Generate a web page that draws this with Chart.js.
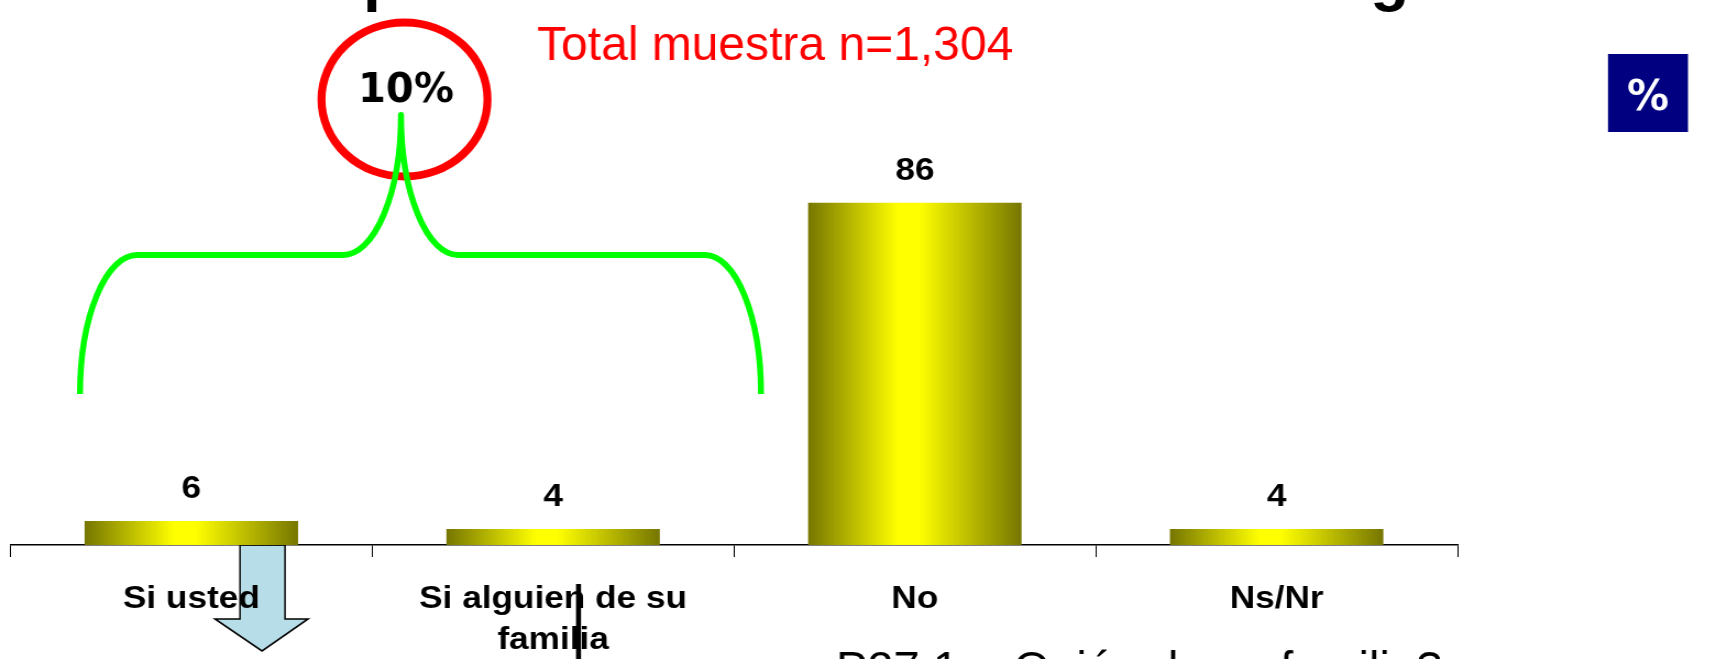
<!DOCTYPE html>
<html><head><meta charset="utf-8">
<script src="https://cdn.jsdelivr.net/npm/chart.js@4/dist/chart.umd.min.js"></script>
<style>
html,body{margin:0;padding:0;background:#fff;overflow:hidden;width:1731px;height:659px;}
#c{display:block;transform:scaleX(1.1);transform-origin:0 0;}
</style></head><body>
<canvas id="c" width="1574" height="659" style="width:1574px;height:659px"></canvas>
<script>
const categories = ['Si usted', 'Si alguien de su familia', 'No', 'Ns/Nr'];
const tickLabels = [['Si usted'], ['Si alguien de su', 'familia'], ['No'], ['Ns/Nr']];
const values = [6, 4, 86, 4];
const yMin = 0, yMax = 100;
const totalText = 'Total muestra n=1,304';
const circleText = '10%';
const unitText = '%';
const questionText = 'P27.1.-  Quién de su familia?';
const titleGlyphs = ['p', 'g'];

const SX = 1.1;
const BAR_PCT = 0.59;

function barGradient(c) {
  const chart = c.chart;
  const xs = chart.scales && chart.scales.x;
  const ca = chart.chartArea;
  if (!ca || !xs) return '#cccc00';
  const cw = (ca.right - ca.left) / categories.length;
  const cx = xs.getPixelForValue(c.dataIndex);
  const w = cw * BAR_PCT;
  const g = chart.ctx.createLinearGradient(cx - w / 2, 0, cx + w / 2, 0);
  g.addColorStop(0, '#767600');
  g.addColorStop(0.42, '#ffff00');
  g.addColorStop(0.52, '#ffff00');
  g.addColorStop(1, '#767600');
  return g;
}

const overlay = {
  id: 'overlay',
  beforeDraw(chart) {
    const ctx = chart.ctx;
    ctx.save();
    ctx.scale(1 / SX, 1);
    ctx.beginPath();
    ctx.moveTo(240, 545); ctx.lineTo(285, 545); ctx.lineTo(285, 619);
    ctx.lineTo(308, 619); ctx.lineTo(262, 651); ctx.lineTo(215, 619);
    ctx.lineTo(240, 619); ctx.closePath();
    ctx.fillStyle = '#b7dee8'; ctx.fill();
    ctx.lineWidth = 1.6; ctx.strokeStyle = '#000'; ctx.stroke();
    ctx.restore();
  },
  afterDatasetsDraw(chart) {
    const ctx = chart.ctx;
    const meta = chart.getDatasetMeta(0);
    ctx.save();
    ctx.font = 'bold 32px "Liberation Sans", Arial, sans-serif';
    ctx.fillStyle = '#000';
    ctx.textAlign = 'center';
    ctx.textBaseline = 'alphabetic';
    meta.data.forEach((bar, i) => {
      ctx.fillText(String(values[i]), bar.x, bar.y - 23);
    });
    ctx.restore();
  },
  afterDraw(chart) {
    const ctx = chart.ctx;
    ctx.save();
    ctx.scale(1 / SX, 1);
    ctx.fillStyle = '#000';
    ctx.font = 'bold 64px "Liberation Sans", Arial, sans-serif';
    ctx.textAlign = 'left'; ctx.textBaseline = 'alphabetic';
    ctx.fillText(titleGlyphs[0], 363, -1);
    ctx.fillText(titleGlyphs[1], 1370, -1);
    ctx.fillStyle = '#ff0000';
    ctx.font = '48px "Liberation Sans", Arial, sans-serif';
    ctx.fillText(totalText, 537, 60);
    ctx.beginPath();
    ctx.ellipse(404.5, 99.5, 83, 77, 0, 0, Math.PI * 2);
    ctx.lineWidth = 8; ctx.strokeStyle = '#ff0000'; ctx.stroke();
    ctx.fillStyle = '#000';
    ctx.font = 'bold 40px "DejaVu Sans", Verdana, sans-serif';
    ctx.textAlign = 'center';
    ctx.fillText(circleText, 406, 102);
    ctx.beginPath();
    ctx.moveTo(80, 394);
    ctx.ellipse(137, 394, 57, 139, 0, Math.PI, 1.5 * Math.PI);
    ctx.lineTo(343, 255);
    ctx.ellipse(343, 115, 58, 140, 0, Math.PI / 2, 0, true);
    ctx.ellipse(458, 115, 57, 140, 0, Math.PI, Math.PI / 2, true);
    ctx.lineTo(705, 255);
    ctx.ellipse(705, 394, 56, 139, 0, 1.5 * Math.PI, 2 * Math.PI);
    ctx.lineWidth = 6; ctx.strokeStyle = '#00ff00'; ctx.lineJoin = 'round';
    ctx.stroke();
    ctx.fillStyle = '#000080';
    ctx.fillRect(1608, 54, 80, 78);
    ctx.fillStyle = '#fff';
    ctx.font = 'bold 42px "DejaVu Sans", Verdana, sans-serif';
    ctx.textAlign = 'center';
    ctx.fillText(unitText, 1648, 110);
    ctx.fillStyle = '#000';
    ctx.fillRect(576, 584, 5, 80);
    ctx.font = '47px "Liberation Sans", Arial, sans-serif';
    ctx.textAlign = 'left';
    ctx.fillText(questionText, 836, 684);
    ctx.restore();
  }
};

new Chart(document.getElementById('c'), {
  type: 'bar',
  data: {
    labels: categories,
    datasets: [{
      data: values,
      backgroundColor: barGradient,
      borderWidth: 0,
      barPercentage: BAR_PCT,
      categoryPercentage: 1
    }]
  },
  options: {
    responsive: false,
    animation: false,
    devicePixelRatio: 1,
    layout: { padding: { left: 9.5, right: 249, top: 147, bottom: 0 } },
    plugins: { legend: { display: false }, tooltip: { enabled: false }, title: { display: false } },
    scales: {
      x: {
        grid: { display: true, drawOnChartArea: false, tickLength: 12, color: '#000', lineWidth: 1, offset: true },
        border: { display: true, color: '#000', width: 1.5 },
        ticks: {
          color: '#000',
          font: { family: '"Liberation Sans", Arial, sans-serif', weight: 'bold', size: 32, lineHeight: 1.28 },
          padding: 22, maxRotation: 0, autoSkip: false,
          callback: (v, i) => tickLabels[i]
        },
        afterFit(s) { s.height = 114; }
      },
      y: { display: false, min: yMin, max: yMax }
    }
  },
  plugins: [overlay]
});
</script>
</body></html>
